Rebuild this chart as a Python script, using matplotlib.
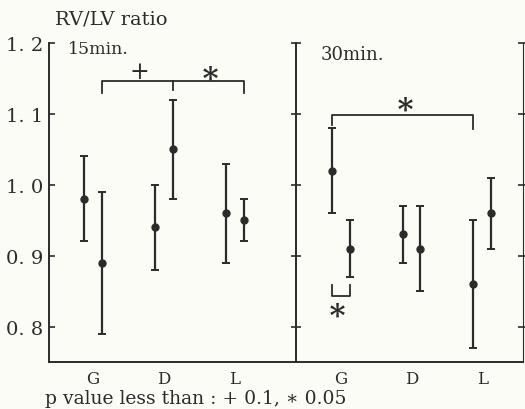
import matplotlib.pyplot as plt
import numpy as np

# groups and values (mean, low end, high end of each bar)
groups = ['G', 'D', 'L']
ticks_y = [0.8, 0.9, 1.0, 1.1, 1.2]
tick_labels = ['0. 8', '0. 9', '1. 0', '1. 1', '1. 2']

mean_15 = [[0.98, 0.89], [0.94, 1.05], [0.96, 0.95]]
low_15 = [[0.92, 0.79], [0.88, 0.98], [0.89, 0.92]]
high_15 = [[1.04, 0.99], [1.00, 1.12], [1.03, 0.98]]

mean_30 = [[1.02, 0.91], [0.93, 0.91], [0.86, 0.96]]
low_30 = [[0.96, 0.87], [0.89, 0.85], [0.77, 0.91]]
high_30 = [[1.08, 0.95], [0.97, 0.97], [0.95, 1.01]]

INK = '#2b2b2b'
BG = '#fcfcf7'
FONT = 'DejaVu Serif'
W, H = 525, 410

plt.rcParams['font.family'] = FONT
plt.rcParams['text.color'] = INK

fig = plt.figure(figsize=(W / 100, H / 100), dpi=100, facecolor=BG)


def px_axes(x0, x1, y0, y1):
    return fig.add_axes([x0 / W, 1 - y1 / H, (x1 - x0) / W, (y1 - y0) / H])


ax1 = px_axes(49, 296, 44, 363)
ax2 = px_axes(296, 523, 44, 363)

off = 0.125


def draw_panel(ax, mean, low, high):
    ax.set_facecolor('none')
    for i in range(len(groups)):
        for j, dx in enumerate([-off, off]):
            m = mean[i][j]
            err = [[m - low[i][j]], [high[i][j] - m]]
            ax.errorbar(i + dx, m, yerr=err, fmt='o', color=INK, ms=5,
                        elinewidth=1.6, capsize=3, capthick=1.4)
    ax.set_ylim(0.75, 1.2)
    ax.set_yticks(ticks_y)
    ax.set_xticks(range(len(groups)))
    ax.set_xticklabels(groups, fontsize=12)
    ax.tick_params(axis='x', length=0, pad=6, colors=INK)
    ax.spines['top'].set_visible(False)
    for s in ax.spines.values():
        s.set_color(INK)
        s.set_linewidth(1.4)


draw_panel(ax1, mean_15, low_15, high_15)
ax1.set_xlim(-0.62, 2.86)
ax1.spines['right'].set_visible(False)
ax1.set_yticklabels(tick_labels, fontsize=14)
ax1.tick_params(axis='y', direction='in', length=4, width=1.2, colors=INK, pad=4)

draw_panel(ax2, mean_30, low_30, high_30)
ax2.set_xlim(-0.64, 2.58)
ax2.spines['right'].set_linewidth(0.8)
ax2.yaxis.set_ticks_position('both')
ax2.set_yticklabels([])
ax2.tick_params(axis='y', which='both', direction='inout', length=7, width=1.2, colors=INK)

# significance brackets, 15 min panel
ax1.plot([off, off, 2 + off, 2 + off], [1.13, 1.146, 1.146, 1.13], color=INK, lw=1.3)
ax1.plot([1 + off, 1 + off], [1.146, 1.133], color=INK, lw=1.3)
ax1.text(0.66, 1.16, '+', ha='center', va='center', fontsize=17)
ax1.text(1.65, 1.157, '∗', ha='center', va='center', fontsize=22, fontweight='bold')

# significance brackets, 30 min panel
ax2.plot([-off, -off, 2 - off, 2 - off], [1.085, 1.099, 1.099, 1.078], color=INK, lw=1.3)
ax2.text(0.91, 1.114, '∗', ha='center', va='center', fontsize=22, fontweight='bold')
ax2.plot([-off, -off, off, off], [0.859, 0.843, 0.843, 0.859], color=INK, lw=1.3)
ax2.text(-0.05, 0.823, '∗', ha='center', va='center', fontsize=22, fontweight='bold')

# titles and footnote
fig.text(55 / W, 1 - 20 / H, 'RV/LV ratio', fontsize=14, va='center', ha='left')
fig.text(68 / W, 1 - 49 / H, '15min.', fontsize=12.5, va='center', ha='left')
fig.text(321 / W, 1 - 55 / H, '30min.', fontsize=13, va='center', ha='left')
fig.text(45 / W, 1 - 399 / H, 'p value less than : + 0.1, ∗ 0.05', fontsize=13.5,
         va='center', ha='left')

fig.savefig('out.png', dpi=100, facecolor=BG)
